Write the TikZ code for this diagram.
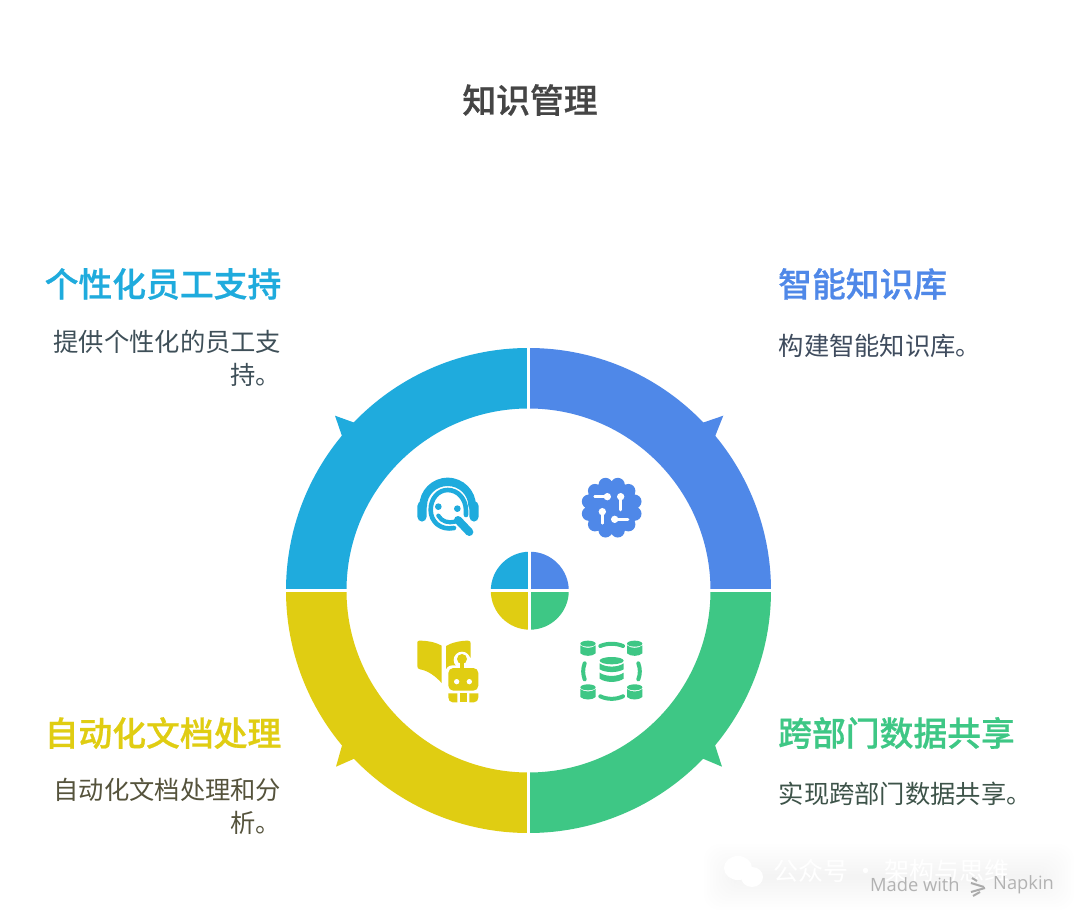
\documentclass[tikz,border=0pt]{standalone}
\usepackage{fontspec}
\setmainfont{Noto Sans CJK SC}[BoldFont={Noto Sans CJK SC Medium},BoldFeatures={FakeBold=0.7}]
\newfontfamily\latinfont{Open Sans}
\definecolor{cblue}{HTML}{4F88E8}
\definecolor{cteal}{HTML}{1FABDD}
\definecolor{cyell}{HTML}{E0CD12}
\definecolor{cgreen}{HTML}{3EC785}
\definecolor{tteal}{HTML}{3E4F58}
\definecolor{tblue}{HTML}{3F4C5E}
\definecolor{tyell}{HTML}{55533C}
\definecolor{tgreen}{HTML}{3D5349}
\tikzset{
  head/.style={font=\fontsize{33.8}{40}\selectfont\bfseries,inner sep=0pt},
  bodyr/.style={font=\fontsize{25.3}{33}\selectfont,inner sep=0pt,align=right,anchor=north east},
  bodyl/.style={font=\fontsize{25.3}{33}\selectfont,inner sep=0pt,align=left,anchor=north west},
  icon/.style={scale=1/3,every path/.append style={line cap=round,line join=round}},
  knob/.style={fill=white,draw=none},
  knobline/.style={draw=white,line width=2.6pt},
}
\newcommand{\sector}[7]{% colour, arc start, arc end, tip, base1, base2
  \fill[#1] ($(C)+(#2:242.5)$) arc[start angle=#2,end angle=#3,radius=242.5]
    -- ($(C)+(#3:182)$) arc[start angle=#3,end angle=#2,radius=182] -- cycle;
  \fill[#1] #4 -- #5 -- #6 -- cycle;
}
\newcommand{\cyl}[2]{%
  \begin{scope}[shift={(#1,#2)}]
    \fill (23,8) ellipse[x radius=23,y radius=9];
    \fill (0,13) .. controls (11,23) and (35,23) .. (46,13) -- (46,37)
      .. controls (36,47) and (10,47) .. (0,37) -- cycle;
  \end{scope}}
\usetikzlibrary{calc}
\begin{document}
\begin{tikzpicture}[x=1pt,y=-1pt]
\useasboundingbox (0,0) rectangle (1080,917);
\fill[white] (0,0) rectangle (1080,917);
\coordinate (C) at (528.5,590.5);

% title
\node[head,text=black!73] (title) at (530,100) {知识管理};

% ring
\sector{cblue}{-90}{0}{(723.3,415.7)}{(699,424)}{(714,439)}{}
\sector{cgreen}{0}{90}{(722,766.7)}{(699,757)}{(714,742)}{}
\sector{cyell}{90}{180}{(336,766.7)}{(343,742)}{(358,757)}{}
\sector{cteal}{180}{270}{(335,415.7)}{(343,439)}{(358,424)}{}
\draw[white,line width=3pt] ($(C)+(0,-250)$) -- ($(C)+(0,250)$);
\draw[white,line width=3pt] ($(C)+(-250,0)$) -- ($(C)+(250,0)$);

% center pie
\coordinate (P) at (529.8,590.7);
\fill[cblue] (P) -- +(39,0) arc[start angle=0,end angle=-90,radius=39] -- cycle;
\fill[cgreen] (P) -- +(39,0) arc[start angle=0,end angle=90,radius=39] -- cycle;
\fill[cyell] (P) -- +(-39,0) arc[start angle=180,end angle=90,radius=39] -- cycle;
\fill[cteal] (P) -- +(-39,0) arc[start angle=180,end angle=270,radius=39] -- cycle;
\draw[white,line width=3pt] ($(P)+(0,-41)$) -- ($(P)+(0,41)$);
\draw[white,line width=3pt] ($(P)+(-41,0)$) -- ($(P)+(41,0)$);

% teal icon: agent
\begin{scope}[shift={(410,470)},icon]
  \fill[cteal] (28,108) arc[start angle=180,end angle=360,x radius=85,y radius=85]
    -- (198,120) -- (180,120) -- (175,108)
    arc[start angle=0,end angle=-180,x radius=62,y radius=60] -- (46,120) -- (28,120) -- cycle;
  \fill[cteal,rounded corners=5pt] (22,93) -- (50,93) -- (50,155) -- (22,155) -- cycle;
  \fill[cteal,rounded corners=5pt] (178,93) -- (206,93) -- (206,155) -- (178,155) -- cycle;
  \draw[cteal,line width=4.6pt] (132,174) .. controls (92,182) and (62,155) .. (62,120)
     .. controls (62,85) and (85,60) .. (113,60) .. controls (145,60) and (168,88) .. (168,122)
     -- (168,135);
  \fill[cteal] (85,110) circle[radius=10];
  \fill[cteal] (142,116) circle[radius=10];
  \draw[white,line width=8pt] (140,145) -- (178,185);
  \draw[cteal,line width=4.2pt] (85,137) .. controls (95,155) and (115,160) .. (135,155);
  \draw[cteal,line width=8pt] (144,150) -- (178,186);
\end{scope}

% blue icon: scalloped chip
\begin{scope}[shift={(574,470)},icon]
  \fill[cblue] (113,113) circle[radius=80];
  \foreach \a in {15,45,...,345}
    \fill[cblue] ($(113,113)+(\a:71)$) circle[radius=21];
  \draw[knobline] (62,80) -- (98,80);
  \fill[knob] (100,80) circle[radius=11];
  \draw[knobline] (140,82) -- (140,120);
  \fill[knob] (140,80) circle[radius=11];
  \draw[knobline] (85,127) -- (85,160);
  \fill[knob] (85,125) circle[radius=11];
  \draw[knobline] (124,148) -- (162,148);
  \fill[knob] (122,148) circle[radius=11];
\end{scope}

% yellow icon: book and robot
\begin{scope}[shift={(410,634)},icon]
  \fill[cyell] (28,20) .. controls (55,20) and (80,26) .. (95,35) -- (95,147)
    .. controls (78,128) and (55,110) .. (30,106) .. controls (24,105) and (22,102) .. (22,96)
    -- (22,26) .. controls (22,22) and (24,20) .. (28,20) -- cycle;
  \fill[cyell] (108,36) .. controls (125,26) and (150,20) .. (174,20)
    .. controls (180,20) and (182,23) .. (182,28) -- (182,70) -- (140,110) -- (108,128) -- cycle;
  \fill[white] (156,78) circle[radius=25];
  \fill[white,rounded corners=7pt] (106,94) rectangle (215,215);
  \fill[cyell] (156,75) circle[radius=15];
  \fill[cyell] (149,80) rectangle (163,106);
  \fill[cyell,rounded corners=5pt] (115,102) rectangle (205,170);
  \fill[white] (140,143) circle[radius=8];
  \fill[white] (178,143) circle[radius=8];
  \fill[cyell] (115,178) -- (142,178) -- (142,205) -- (128,205) .. controls (120,205) and (115,198) .. (115,190) -- cycle;
  \fill[cyell] (149,178) rectangle (171,205);
  \fill[cyell] (178,178) -- (205,178) -- (205,190) .. controls (205,198) and (200,205) .. (192,205) -- (178,205) -- cycle;
\end{scope}

% green icon: databases
\begin{scope}[shift={(574,634)},icon,fill=cgreen]
  \cyl{19}{21}
  \cyl{159}{21}
  \cyl{19}{152}
  \cyl{159}{152}
  \fill (113,80) ellipse[x radius=36,y radius=11];
  \fill (77,88) .. controls (95,101) and (131,101) .. (149,88) -- (149,106)
    .. controls (131,117) and (95,117) .. (77,106) -- cycle;
  \fill (77,116) .. controls (95,129) and (131,129) .. (149,116) -- (149,134)
    .. controls (131,147) and (95,147) .. (77,134) -- cycle;
  \draw[cgreen,line width=4pt] (79,36) .. controls (100,27) and (126,27) .. (147,36);
  \draw[cgreen,line width=4pt] (79,187) .. controls (100,197) and (126,197) .. (147,187);
  \draw[cgreen,line width=4pt] (32,88) .. controls (26,104) and (26,120) .. (32,136);
  \draw[cgreen,line width=4pt] (193,88) .. controls (199,104) and (199,120) .. (193,136);
\end{scope}

% text blocks
\node[head,text=cteal,anchor=east] (h1) at (281.5,284) {个性化员工支持};
\node[bodyr,text=tteal] (b1) at (281.5,330) {提供个性化的员工支\\持。};
\node[head,text=cblue,anchor=west] (h2) at (778,284) {智能知识库};
\node[bodyl,text=tblue] (b2) at (778.5,334) {构建智能知识库。};
\node[head,text=cyell,anchor=east] (h3) at (281.5,733) {自动化文档处理};
\node[bodyr,text=tyell] (b3) at (281.5,778) {自动化文档处理和分\\析。};
\node[head,text=cgreen,anchor=west] (h4) at (778,733) {跨部门数据共享};
\node[bodyl,text=tgreen] (b4) at (778.5,782) {实现跨部门数据共享。};

% watermark
\foreach \m in {0,3,...,33}
  \fill[black,opacity=0.004,rounded corners=16pt] (704+\m,844+\m) rectangle (1074-\m,910-\m);
\fill[white] (738,868) ellipse[x radius=14,y radius=12];
\fill[white] (752,877) ellipse[x radius=11,y radius=10];
\node[font=\fontsize{25}{30}\selectfont,text=white,inner sep=0pt,anchor=west] (wm) at (773,871) {公众号 · 架构与思维};
\node[font=\latinfont\fontsize{18.3}{20}\selectfont,text=black!30,inner sep=0pt,anchor=west] (mw) at (870,885) {Made with};
\node[font=\latinfont\fontsize{18.3}{20}\selectfont,text=black!30,inner sep=0pt,anchor=west] (np) at (993,885) {Napkin};
\begin{scope}[black!33,line width=2pt]
  \draw (972,878) -- (977,881);
  \draw (971,883) -- (984,887);
  \draw (985,888) -- (971,892);
  \draw (980,892) -- (973,896);
\end{scope}
\end{tikzpicture}
\end{document}
